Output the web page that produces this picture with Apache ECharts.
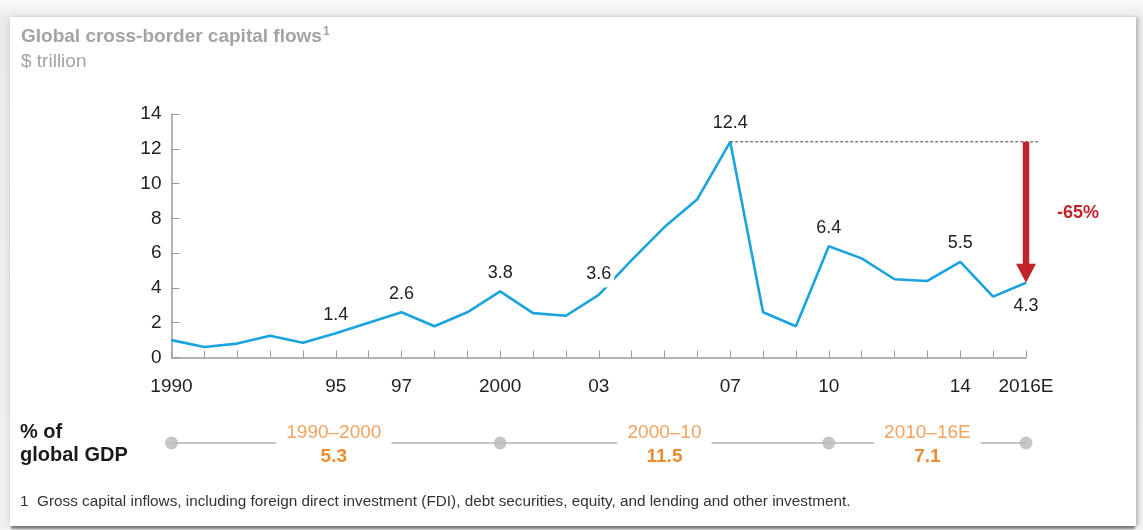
<!DOCTYPE html>
<html>
<head>
<meta charset="utf-8">
<script src="https://cdn.jsdelivr.net/npm/echarts@6/dist/echarts.min.js"></script>
<style>
html,body{margin:0;padding:0;width:1143px;height:530px;overflow:hidden;background:linear-gradient(#fafafa,#ececec 17px,#f2f2f2);}
#card{position:absolute;left:10px;top:17px;width:1126px;height:509px;background:#fff;box-shadow:0 4px 2px -1px rgba(0,0,0,0.45),-4px 0 6px rgba(0,0,0,0.06),3px 0 3px rgba(0,0,0,0.18);}
#chart{position:absolute;left:0;top:0;width:1143px;height:530px;}
</style>
</head>
<body>
<div id="card"></div>
<div id="chart"></div>
<script>
// ---- data ----
const categories = ['1990','1991','1992','1993','1994','1995','1996','1997','1998','1999',
  '2000','2001','2002','2003','2004','2005','2006','2007','2008','2009',
  '2010','2011','2012','2013','2014','2015','2016E'];
const values = [1.0,0.6,0.8,1.25,0.85,1.4,2.0,2.6,1.8,2.6,
  3.8,2.55,2.4,3.6,5.6,7.5,9.1,12.4,2.6,1.8,
  6.4,5.7,4.5,4.4,5.5,3.5,4.3];
const tickLabels = ['1990','','','','','95','','97','','',
  '2000','','','03','','','','07','','',
  '10','','','','14','','2016E'];
const yTicks = [0,2,4,6,8,10,12,14];
const labelledYears = ['1995','1997','2000','2003','2007','2010','2014','2016E'];
const labelBelowYears = ['2016E'];
const peakYear = '2007';
const endYear = '2016E';
const changeLabel = '-65%';
const periodLabels = ['1990\u20132000','2000\u201310','2010\u201316E'];
const periodStart = ['1990','2000','2010'];
const periodEnd = ['2000','2010','2016E'];
const gdpShare = ['5.3','11.5','7.1'];
const periodBounds = ['1990','2000','2010','2016E'];
const titleText = 'Global cross-border capital flows';
const titleNote = '1';
const unitText = '$ trillion';
const gdpRowLabel = ['% of','global GDP'];
const footnote = '1  Gross capital inflows, including foreign direct investment (FDI), debt securities, equity, and lending and other investment.';

// ---- chart ----
const FONT = 'Liberation Sans, Arial, sans-serif';
const chart = echarts.init(document.getElementById('chart'), null, {renderer:'canvas'});
const measureCtx = document.createElement('canvas').getContext('2d');
function textWidth(t, font){ measureCtx.font = font; return measureCtx.measureText(t).width; }

const lineData = values.map((v,i)=>{
  const y = categories[i];
  if (labelledYears.indexOf(y) >= 0) {
    const below = labelBelowYears.indexOf(y) >= 0;
    const lab = {show:true, position: below ? 'bottom' : 'top', distance: below ? 14 : 9};
    if (y === '2003') { lab.backgroundColor = '#fff'; lab.padding = [2,3,4,3]; lab.distance = 7; }
    return {value:v, label:lab};
  }
  return v;
});

const peakIdx = categories.indexOf(peakYear);
const endIdx = categories.indexOf(endYear);

const option = {
  animation:false,
  title:[
    {text:'{t|'+titleText+'}{s|'+titleNote+'}', left:21, top:25.5, padding:0,
     textStyle:{rich:{
       t:{fontFamily:FONT,fontSize:19,fontWeight:'bold',color:'#a3a3a3',lineHeight:22},
       s:{fontFamily:FONT,fontSize:12,color:'#a3a3a3',verticalAlign:'top',lineHeight:22,padding:[0,0,0,1]}
     }}},
    {text:unitText, left:21, top:51.5, padding:0, textStyle:{fontFamily:FONT,fontSize:19,fontWeight:'normal',color:'#a3a3a3',lineHeight:20}}
  ],
  grid:[
    {left:171.5, right:117, top:114, bottom:172.5, containLabel:false},
    {left:171.5, right:117, top:438, height:10, containLabel:false}
  ],
  xAxis:[
    {type:'category', gridIndex:0, data:categories, boundaryGap:false,
     axisLine:{lineStyle:{color:'#9a9a9a',width:1.5}},
     axisTick:{inside:true, length:7, interval:0, lineStyle:{color:'#9a9a9a',width:1}},
     axisLabel:{interval:0, margin:20, fontFamily:FONT, fontSize:19, color:'#222',
       formatter:(v,i)=>tickLabels[i]},
     splitLine:{show:false}},
    {type:'category', gridIndex:1, data:categories, boundaryGap:false, show:false}
  ],
  yAxis:[
    {type:'value', gridIndex:0, min:yTicks[0], max:yTicks[yTicks.length-1], interval:yTicks[1]-yTicks[0],
     axisLine:{show:true, lineStyle:{color:'#9a9a9a',width:1.5}},
     axisTick:{show:true, inside:true, length:8, lineStyle:{color:'#9a9a9a',width:1}},
     axisLabel:{margin:10, fontFamily:FONT, fontSize:19, color:'#222'},
     splitLine:{show:false}},
    {type:'value', gridIndex:1, min:0, max:1, show:false}
  ],
  graphic:[
    {type:'text', left:20, top:422, style:{text:gdpRowLabel[0], font:'bold 20px '+FONT, fill:'#1a1a1a'}},
    {type:'text', left:20, top:445, style:{text:gdpRowLabel[1], font:'bold 20px '+FONT, fill:'#1a1a1a'}},
    {type:'text', left:20, top:494, style:{text:footnote, font:'15.3px '+FONT, fill:'#333'}}
  ],
  series:[
    {type:'line', xAxisIndex:0, yAxisIndex:0, data:lineData,
     symbol:'circle', symbolSize:1, itemStyle:{color:'#1aa3dd'},
     lineStyle:{color:'#1aa3dd', width:2.6},
     label:{show:false, fontFamily:FONT, fontSize:18, color:'#222'},
     z:3},
    {type:'custom', xAxisIndex:0, yAxisIndex:0, data:[[endIdx, values[peakIdx], values[endIdx]]],
     clip:false, z:4, silent:true,
     renderItem:(params, api)=>{
       const p1 = api.coord([peakIdx, values[peakIdx]]);
       const pTop = api.coord([endIdx, values[peakIdx]]);
       const pBot = api.coord([endIdx, values[endIdx]]);
       const headH = 19, headW = 20, shaftW = 6.5;
       return {type:'group', children:[
         {type:'line', shape:{x1:p1[0], y1:p1[1], x2:pTop[0]+12, y2:pTop[1]},
          style:{stroke:'#444', lineWidth:1, lineDash:[3,2]}},
         {type:'rect', shape:{x:pTop[0]-shaftW/2, y:pTop[1], width:shaftW, height:(pBot[1]-headH)-pTop[1]+1},
          style:{fill:'#c1232b'}},
         {type:'polygon', shape:{points:[[pBot[0]-headW/2,pBot[1]-headH],[pBot[0]+headW/2,pBot[1]-headH],[pBot[0],pBot[1]]]},
          style:{fill:'#c1232b'}},
         {type:'text', x:pTop[0]+52, y:(pTop[1]+pBot[1])/2+1,
          style:{text:changeLabel, font:'bold 18px '+FONT, fill:'#c1232b', align:'center', verticalAlign:'middle'}}
       ]};
     }},
    {type:'scatter', xAxisIndex:1, yAxisIndex:1, data:periodBounds.map(b=>[categories.indexOf(b),0.5]),
     symbol:'circle', symbolSize:13, itemStyle:{color:'#b9b9bd'}, z:5, silent:true},
    {type:'custom', xAxisIndex:1, yAxisIndex:1, data:periodLabels.map((p,i)=>[i]), clip:false, z:4, silent:true,
     renderItem:(params, api)=>{
       const i = params.dataIndex;
       const a = api.coord([categories.indexOf(periodStart[i]), 0.5]);
       const b = api.coord([categories.indexOf(periodEnd[i]), 0.5]);
       const mid = (a[0]+b[0])/2 - (i===0 ? 2 : 0);
       const w = Math.max(textWidth(periodLabels[i], '19px '+FONT), textWidth(gdpShare[i], 'bold 19px '+FONT));
       const half = w/2 + 10;
       return {type:'group', children:[
         {type:'line', shape:{x1:a[0], y1:a[1], x2:mid-half, y2:a[1]}, style:{stroke:'#c6c6c6', lineWidth:2}},
         {type:'line', shape:{x1:mid+half, y1:a[1], x2:b[0], y2:a[1]}, style:{stroke:'#c6c6c6', lineWidth:2}},
         {type:'text', x:mid, y:a[1]-10.5, style:{text:periodLabels[i], font:'19px '+FONT, fill:'#f2a25e', align:'center', verticalAlign:'middle'}},
         {type:'text', x:mid, y:a[1]+13.5, style:{text:gdpShare[i], font:'bold 19px '+FONT, fill:'#ee8a30', align:'center', verticalAlign:'middle'}}
       ]};
     }}
  ]
};
chart.setOption(option);
</script>
</body>
</html>
